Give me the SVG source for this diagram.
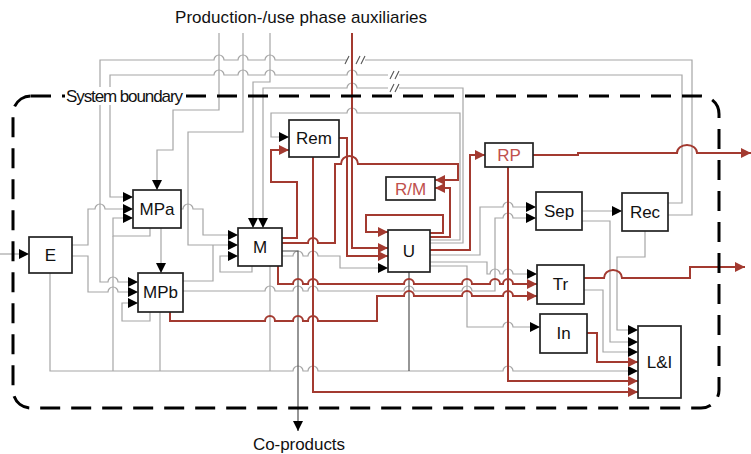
<svg xmlns="http://www.w3.org/2000/svg" width="751" height="454" viewBox="0 0 751 454">
<style>
.g{fill:none;stroke:#a6a6a6;stroke-width:1.2}
.d{fill:none;stroke:#505050;stroke-width:1.2}
.r{fill:none;stroke:#a33a30;stroke-width:2}
.ga{marker-end:url(#ab)}
.ra{marker-end:url(#ar)}
.box{fill:#fff;stroke:#222;stroke-width:1.7}
.lbl{font-family:"Liberation Sans",Arial,sans-serif;font-size:17px;fill:#111;text-anchor:middle}
.rl{fill:#c0504d}
.txt{font-family:"Liberation Sans",Arial,sans-serif;font-size:17px;fill:#111}
.sl{stroke:#555;stroke-width:1.1;fill:none}
</style>
<defs>
<marker id="ab" markerUnits="userSpaceOnUse" markerWidth="10" markerHeight="10" refX="10" refY="5" orient="auto"><path d="M0,0 L10,5 L0,10 z" fill="#000"/></marker>
<marker id="ar" markerUnits="userSpaceOnUse" markerWidth="10" markerHeight="10" refX="10" refY="5" orient="auto"><path d="M0,0 L10,5 L0,10 z" fill="#a33a30"/></marker>
</defs>
<rect width="751" height="454" fill="#fff"/>

<g id="connectors">
<path class="g" d="M668 215 H692 V60 H365"/>
<path class="g ga" d="M347 60 H275 a5 5 0 0 0 -10 0 H248 a5 5 0 0 0 -10 0 H224 a5 5 0 0 0 -10 0 H100 V282 H108 a5 5 0 0 1 10 0 H138"/>
<path class="g" d="M668 203 H682 V75 H399"/>
<path class="g ga" d="M388 75 H357 a5 5 0 0 0 -10 0 H275 a5 5 0 0 0 -10 0 H248 a5 5 0 0 0 -10 0 H224 a5 5 0 0 0 -10 0 H110 V197 H133"/>
<path class="g" d="M430 243 H463 V88 H399"/>
<path class="g ga" d="M388 88 H357 a5 5 0 0 0 -10 0 H263 V228"/>
<path class="g ga" d="M430 240 H460 V113 H357 a5 5 0 0 0 -10 0 H271 V137 H289"/>
<path class="sl" d="M345 64 L349 56 M356 64 L360 56 M361 64 L365 56 M390 79 L394 71 M395 79 L399 71 M390 92 L394 84 M395 92 L399 84"/>
<path class="g ga" d="M219 33 V110 H173 V150 H157 V190"/>
<path class="g ga" d="M243 33 V132 H188 V245 H238"/>
<path class="g ga" d="M270 33 V82 H253 V228"/>
<path class="g ga" d="M0 254 H29"/>
<path class="g ga" d="M72 245 H88 V209 H95 a5 5 0 0 1 10 0 H133"/>
<path class="g ga" d="M72 256 H88 V292 H108 a5 5 0 0 1 10 0 H138"/>
<path class="g ga" d="M50 273 V371 H293 a5 5 0 0 1 10 0 H308 a5 5 0 0 1 10 0 H503 a5 5 0 0 1 10 0 H638"/>
<path class="g ga" d="M150 228 V236 H113 V218 H133"/>
<path class="g" d="M113 236 V371"/>
<path class="g ga" d="M161 228 V273"/>
<path class="g ga" d="M150 312 V321 H122 V303 H138"/>
<path class="g" d="M160 312 V371"/>
<path class="g ga" d="M181 209 H183 a5 5 0 0 1 10 0 H203 V235 H238"/>
<path class="g" d="M183 281 H213 V245"/>
<path class="g ga" d="M183 291 H265 a5 5 0 0 1 10 0 H293 a5 5 0 0 1 10 0 H308 a5 5 0 0 1 10 0 H404 a5 5 0 0 1 10 0 H462 a5 5 0 0 1 10 0 H495 V218 H503 a5 5 0 0 1 10 0 H536"/>
<path class="g ga" d="M252 266 V272 H220 V256 H238"/>
<path class="g ga" d="M282 256 H293 a5 5 0 0 1 10 0 H308 a5 5 0 0 1 10 0 H340 V268 H388"/>
<path class="d ga" d="M282 251 H298 V431"/>
<path class="g" d="M270 266 V371"/>
<path class="d" d="M409 272 V371"/>
<path class="g ga" d="M430 255 H480 V207 H503 a5 5 0 0 1 10 0 H536"/>
<path class="g ga" d="M430 262 H487 V274 H490 a5 5 0 0 1 10 0 H503 a5 5 0 0 1 10 0 H537"/>
<path class="g ga" d="M430 266 H467 V327 H503 a5 5 0 0 1 10 0 H540"/>
<path class="g ga" d="M582 211 H622"/>
<path class="g ga" d="M582 221 H610 V342 H638"/>
<path class="g ga" d="M645 231 V257 H617 V330 H638"/>
<path class="g ga" d="M584 290 H603 V352 H638"/>
<path class="r ra" d="M352 33 V248 H388"/>
<path class="r ra" d="M282 238 H297 V182 H271 V150 H289"/>
<path class="r ra" d="M339 138 H347 V256 H388"/>
<path class="r ra" d="M313 157 V392 H638"/>
<path class="r ra" d="M278 266 V284 H293 a5 5 0 0 1 10 0 H308 a5 5 0 0 1 10 0 H404 a5 5 0 0 1 10 0 H462 a5 5 0 0 1 10 0 H490 a5 5 0 0 1 10 0 H503 a5 5 0 0 1 10 0 H537"/>
<path class="r ra" d="M170 312 V321 H265 a5 5 0 0 1 10 0 H293 a5 5 0 0 1 10 0 H308 a5 5 0 0 1 10 0 H377 V296 H404 a5 5 0 0 1 10 0 H462 a5 5 0 0 1 10 0 H503 a5 5 0 0 1 10 0 H537"/>
<path class="r ra" d="M430 237 H450 V188 H435"/>
<path class="r ra" d="M430 233 H443 V215 H366 V232 H388"/>
<path class="r ra" d="M430 250 H470 V155 H485"/>
<path class="r ra" d="M533 155 H578 V153 H677 a10 8 0 0 1 20 0 H751"/>
<path class="r ra" d="M584 278 H604 a9 8 0 0 1 18 0 H690 V267 H745"/>
<path class="r ra" d="M508 167 V381 H638"/>
<path class="r ra" d="M587 333 H597 V362 H638"/>
<path class="r ra" d="M282 243 H308 a5 5 0 0 1 10 0 H335 V164 H341 a8.5 8 0 0 1 17 0 H458 V180 H435"/>
</g>

<g id="boundary">
<rect x="13" y="96" width="706" height="312" rx="18" fill="none" stroke="#000" stroke-width="3" stroke-dasharray="20 11"/>
<rect x="65" y="87" width="120" height="18" fill="#fff"/>
<text class="txt" x="66" y="102" font-size="15.5" textLength="117">System boundary</text>
</g>

<text class="txt" x="175" y="23" textLength="252">Production-/use phase auxiliaries</text>
<text class="txt" x="253" y="450" textLength="92">Co-products</text>

<g id="E"><rect class="box" x="29" y="237" width="43" height="36"/><text class="lbl" x="50.5" y="261">E</text></g>
<g id="MPa"><rect class="box" x="133" y="190" width="48" height="38"/><text class="lbl" x="157" y="215">MPa</text></g>
<g id="MPb"><rect class="box" x="138" y="273" width="45" height="39"/><text class="lbl" x="160.5" y="298">MPb</text></g>
<g id="M"><rect class="box" x="238" y="228" width="44" height="38"/><text class="lbl" x="260" y="253">M</text></g>
<g id="Rem"><rect class="box" x="289" y="120" width="50" height="37"/><text class="lbl" x="314" y="144">Rem</text></g>
<g id="RM"><rect class="box" x="386" y="177" width="49" height="23"/><text class="lbl rl" x="410.5" y="195">R/M</text></g>
<g id="U"><rect class="box" x="388" y="230" width="42" height="42"/><text class="lbl" x="409" y="257">U</text></g>
<g id="RP"><rect class="box" x="485" y="143" width="48" height="24"/><text class="lbl rl" x="509" y="161">RP</text></g>
<g id="Sep"><rect class="box" x="536" y="192" width="46" height="38"/><text class="lbl" x="559" y="217">Sep</text></g>
<g id="Rec"><rect class="box" x="622" y="193" width="46" height="38"/><text class="lbl" x="645" y="218">Rec</text></g>
<g id="Tr"><rect class="box" x="537" y="265" width="47" height="39"/><text class="lbl" x="560.5" y="290">Tr</text></g>
<g id="In"><rect class="box" x="540" y="314" width="47" height="39"/><text class="lbl" x="563.5" y="339">In</text></g>
<g id="LI"><rect class="box" x="638" y="326" width="43" height="72"/><text class="lbl" x="659.5" y="368">L&amp;I</text></g>
</svg>
